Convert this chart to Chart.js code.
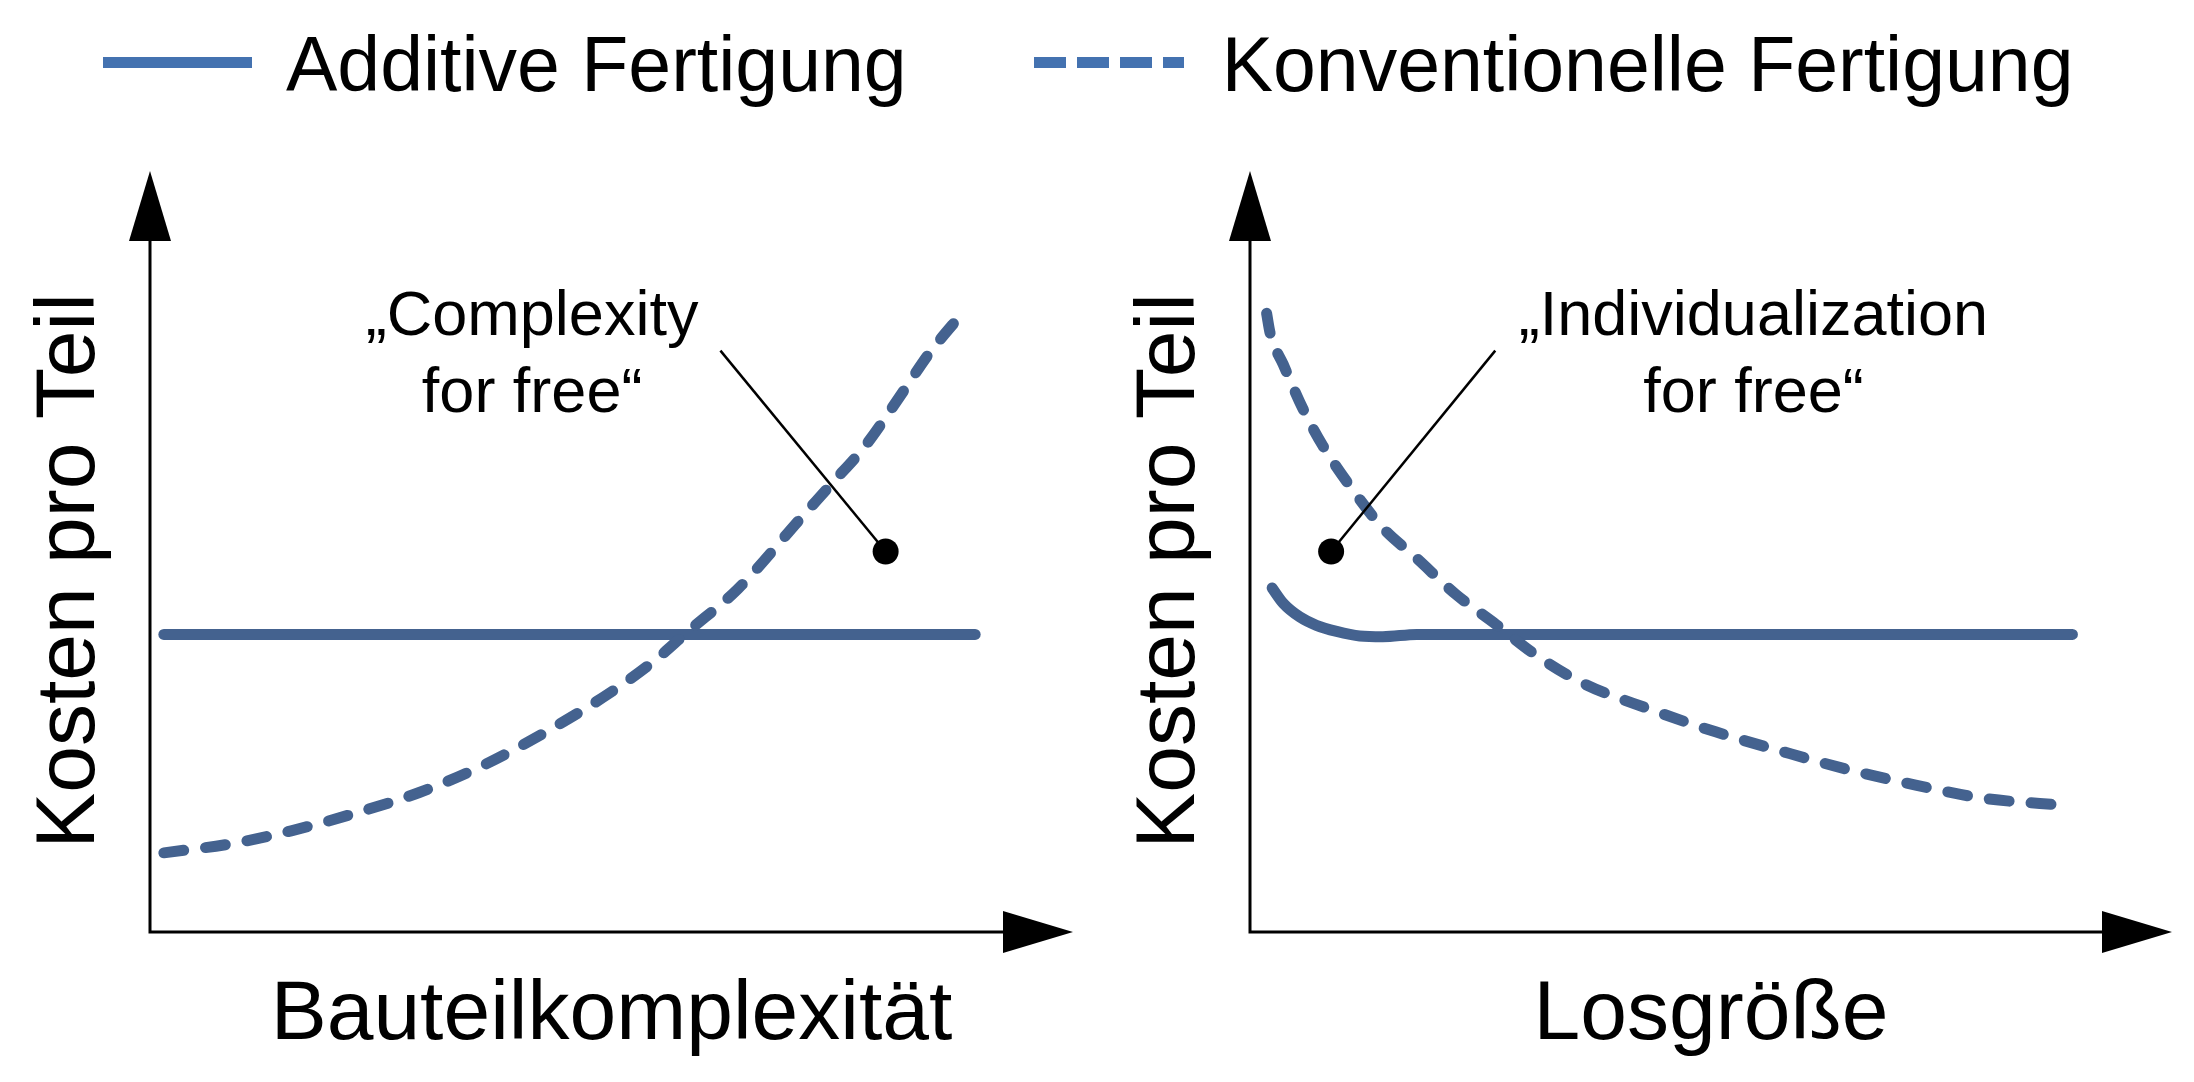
<!DOCTYPE html>
<html>
<head>
<meta charset="utf-8">
<script src="https://cdn.jsdelivr.net/npm/chart.js@4/dist/chart.umd.min.js"></script>
<style>
  html, body { margin: 0; padding: 0; background: #fff; }
  body { width: 2194px; height: 1082px; position: relative; overflow: hidden;
         font-family: "Liberation Sans", Arial, sans-serif; }
  canvas { position: absolute; top: 0; }
  #cLeft { left: 0; }
  #cRight { left: 1100px; }
  #legend { position: absolute; left: 103px; top: 24px; height: 77px;
            display: flex; align-items: center; white-space: nowrap; }
  .sample { height: 11px; flex: none; }
  .solid { width: 149px; background: #4472B0; }
  .dashed { width: 150px;
            background: repeating-linear-gradient(to right, #4472B0 0 32px, transparent 32px 43px); }
  .label { font-size: 77px; line-height: 77px; color: #000; padding-top: 4px; }
</style>
</head>
<body>
<div id="legend"></div>
<canvas id="cLeft" width="1100" height="1082"></canvas>
<canvas id="cRight" width="1094" height="1082"></canvas>
<script>
// ---------- data ----------
const seriesNames = ['Additive Fertigung', 'Konventionelle Fertigung'];
const xTitles = ['Bauteilkomplexität', 'Losgröße'];
const yTitle = 'Kosten pro Teil';

// Left panel: cost per part vs. part complexity
const leftAddX  = [1.5, 89.4];
const leftAddY  = [39.1, 39.1];
const leftConvX = [1.5, 8.8, 15.3, 22.2, 29.1, 36.1, 42.9, 49.8, 54.7, 58.2, 63.7, 70.6, 74.0, 77.5, 81.7, 84.4, 88.2];
const leftConvY = [10.4, 11.6, 13.3, 15.6, 18.3, 21.9, 26.3, 31.4, 35.7, 39.4, 45.1, 54.5, 59.1, 63.9, 71.2, 76.0, 81.6];

// Right panel: cost per part vs. lot size
const rightAddX  = [2.4, 3.6, 5.4, 7.2, 9.4, 11.9, 14.4, 18.1, 89.2];
const rightAddY  = [45.2, 43.2, 41.4, 40.3, 39.5, 38.9, 38.8, 39.1, 39.1];
const rightConvX = [1.8, 2.2, 3.6, 5.8, 7.9, 10.9, 14.4, 18.0, 22.3, 26.7, 31.0, 36.1, 43.3, 50.5, 57.8, 65.0, 72.2, 79.4, 88.8];
const rightConvY = [81.3, 78.6, 74.6, 68.6, 63.9, 58.5, 53.1, 49.2, 44.4, 40.4, 36.4, 32.7, 29.3, 26.3, 23.7, 21.3, 19.3, 17.6, 16.6];

// Annotations (data units)
const leftNoteLines  = ['„Complexity', 'for free“'];
const leftNoteAt     = {x: 41.4, y: 78.4};
const leftLeaderX    = [61.8, 79.7];
const leftLeaderY    = [76.4, 50.0];
const rightNoteLines = ['„Individualization', 'for free“'];
const rightNoteAt    = {x: 54.6, y: 78.4};
const rightLeaderX   = [26.6, 8.8];
const rightLeaderY   = [76.4, 50.0];

// ---------- styles ----------
const FONT = '"Liberation Sans", Arial, sans-serif';
const CURVE = '#44628F';

// ---------- legend (HTML) ----------
(function () {
  const lg = document.getElementById('legend');
  const kinds = ['solid', 'dashed'];
  seriesNames.forEach((name, i) => {
    const s = document.createElement('span');
    s.className = 'sample ' + kinds[i];
    s.style.marginLeft = i === 0 ? '0' : '127px';
    s.style.marginRight = i === 0 ? '34px' : '38px';
    const t = document.createElement('span');
    t.className = 'label';
    t.textContent = name;
    lg.appendChild(s); lg.appendChild(t);
  });
})();

// ---------- plugins ----------
const axesArrows = {
  id: 'axesArrows',
  beforeDatasetsDraw(chart, args, o) {
    const {ctx, scales: {x, y}} = chart;
    const ox = x.getPixelForValue(0), oy = y.getPixelForValue(0);
    const tx = x.getPixelForValue(x.max), ty = y.getPixelForValue(y.max);
    ctx.save();
    ctx.strokeStyle = o.color; ctx.fillStyle = o.color; ctx.lineWidth = o.width;
    ctx.lineJoin = 'miter';
    ctx.beginPath();
    ctx.moveTo(ox, ty + o.len - 1);
    ctx.lineTo(ox, oy);
    ctx.lineTo(tx - o.len + 1, oy);
    ctx.stroke();
    ctx.beginPath();
    ctx.moveTo(ox, ty); ctx.lineTo(ox - o.half, ty + o.len); ctx.lineTo(ox + o.half, ty + o.len);
    ctx.closePath(); ctx.fill();
    ctx.beginPath();
    ctx.moveTo(tx, oy); ctx.lineTo(tx - o.len, oy - o.half); ctx.lineTo(tx - o.len, oy + o.half);
    ctx.closePath(); ctx.fill();
    ctx.restore();
  }
};

const notes = {
  id: 'notes',
  afterDatasetsDraw(chart, args, o) {
    const {ctx, scales: {x, y}} = chart;
    ctx.save();
    ctx.font = o.size + 'px ' + FONT;
    ctx.fillStyle = o.color;
    ctx.textAlign = 'center';
    ctx.textBaseline = 'alphabetic';
    const px = x.getPixelForValue(o.at.x);
    let py = y.getPixelForValue(o.at.y);
    o.lines.forEach(l => { ctx.fillText(l, px, py); py += o.lineGap; });
    ctx.restore();
  }
};

function pts(xs, ys) { return xs.map((v, i) => ({x: v, y: ys[i]})); }

function makeChart(id, p) {
  return new Chart(document.getElementById(id), {
    type: 'line',
    data: {
      datasets: [
        { label: 'leader', data: pts(p.leaderX, p.leaderY), borderColor: '#000', borderWidth: 2.5,
          pointRadius: 0, tension: 0, order: 0, clip: false },
        { label: 'dot', data: pts([p.leaderX[1]], [p.leaderY[1]]), showLine: false,
          pointRadius: 13, pointBackgroundColor: '#000', pointBorderWidth: 0, order: 0, clip: false },
        { label: seriesNames[1], data: pts(p.convX, p.convY), borderColor: CURVE, borderWidth: 11,
          borderDash: [20, 22], borderCapStyle: 'round', borderJoinStyle: 'round',
          cubicInterpolationMode: 'monotone', pointRadius: 0, order: 1, clip: false },
        { label: seriesNames[0], data: pts(p.addX, p.addY), borderColor: CURVE, borderWidth: 11,
          borderCapStyle: 'round', borderJoinStyle: 'round',
          cubicInterpolationMode: 'monotone', pointRadius: 0, order: 2, clip: false }
      ]
    },
    options: {
      responsive: false,
      animation: false,
      devicePixelRatio: 1,
      layout: { padding: { top: 171, right: p.padRight, bottom: 0, left: 0 } },
      plugins: {
        legend: { display: false },
        tooltip: { enabled: false },
        notes: { at: p.noteAt, lines: p.noteLines, size: 63, lineGap: 77, color: '#000' },
        axesArrows: { color: '#000', width: 3, len: 70, half: 21 }
      },
      scales: {
        x: {
          type: 'linear', min: 0, max: 100,
          grid: { display: false }, border: { display: false }, ticks: { display: false },
          title: { display: true, text: p.xTitle, color: '#000',
                   font: { family: FONT, size: 84, lineHeight: 1.2 }, padding: { top: 0, bottom: 16 } },
          afterFit: s => { s.height = 111; }
        },
        y: {
          type: 'linear', min: -5.125, max: 100,
          grid: { display: false }, border: { display: false }, ticks: { display: false },
          title: { display: true, text: yTitle, color: '#000',
                   font: { family: FONT, size: 84, lineHeight: 1.2 }, padding: { top: 20, bottom: 0 } },
          afterFit: s => { s.width = 150; }
        }
      }
    },
    plugins: [axesArrows, notes]
  });
}

makeChart('cLeft', {
  addX: leftAddX, addY: leftAddY, convX: leftConvX, convY: leftConvY,
  leaderX: leftLeaderX, leaderY: leftLeaderY, noteAt: leftNoteAt, noteLines: leftNoteLines,
  xTitle: xTitles[0], padRight: 27
});
makeChart('cRight', {
  addX: rightAddX, addY: rightAddY, convX: rightConvX, convY: rightConvY,
  leaderX: rightLeaderX, leaderY: rightLeaderY, noteAt: rightNoteAt, noteLines: rightNoteLines,
  xTitle: xTitles[1], padRight: 22
});
</script>
</body>
</html>
